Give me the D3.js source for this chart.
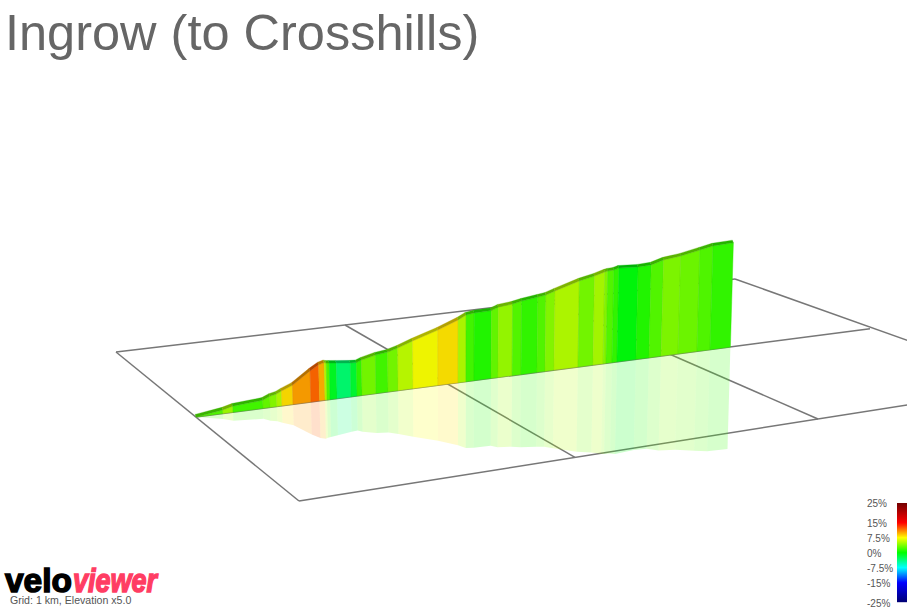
<!DOCTYPE html>
<html>
<head>
<meta charset="utf-8">
<script src="https://cdnjs.cloudflare.com/ajax/libs/d3/7.8.5/d3.min.js"></script>
<style>
html, body { margin: 0; padding: 0; background: #fff; overflow: hidden; }
svg { display: block; font-family: "Liberation Sans", Arial, sans-serif; }
</style>
</head>
<body>
<div id="wrapper"></div>
<script>
var title = 'Ingrow (to Crosshills)';
var grid_note = 'Grid: 1 km, Elevation x5.0';

// Distance along the route (km), elevation gain (m) at each point.
var distance_km = [0, 0.107, 0.147, 0.266, 0.294, 0.321, 0.341, 0.385, 0.456, 0.490, 0.512,
                   0.520, 0.532, 0.560, 0.615, 0.639, 0.659, 0.714, 0.762, 0.802, 0.861, 0.960,
                   1.045, 1.080, 1.116, 1.192, 1.223, 1.286, 1.326, 1.397, 1.433, 1.473, 1.580,
                   1.647, 1.692, 1.705, 1.732, 1.754, 1.839, 1.897, 1.951, 2.030, 2.126, 2.192, 2.295];
var elevation_m = [0, 2.8, 4.8, 6.4, 8.8, 9.9, 11.8, 15.2, 24.8, 28.8, 30,
                   29.4, 29.1, 28.4, 27, 26.7, 28.2, 30.7, 31.8, 34, 38.1, 44.2,
                   50.2, 53.3, 54.1, 54.2, 56.3, 57.3, 58.7, 60.2, 61, 63.3, 68.8,
                   71.2, 73.4, 73.8, 74, 75, 73.9, 74.2, 76.9, 78.3, 81.1, 83, 83.4];
// Gradient (%) of each stretch between two points.
var gradient_pct = [2.5, 4.7, 2, 3, 4, 5.3, 8.5, 10.3, 12, 9.8, 5.5,
                    2.5, -1, -3.3, -1.5, 1.5, 3.5, 2, 3.5, 5.6, 7.3, 8.3,
                    5.2, 2, 1, 3, 4.5, 2.5, 1.5, 2.5, 4, 5.3, 3.5,
                    5, 4, 2.5, 1.5, -0.3, 1, 2.5, 3.8, 3.3, 2.4, 1.5];

var grid_km = [0, 1, 2, 3];
var legend_ticks = [25, 15, 7.5, 0, -7.5, -15, -25];
var legend_domain = [-25, -15, -7.5, 0, 7.5, 15, 25];
var legend_colors = ['#000070', '#0000ff', '#00ffff', '#00ff00', '#ffff00', '#ff0000', '#700000'];

var width = 907;
var height = 607;

var svg = d3.select('#wrapper').append('svg')
    .attr('width', width)
    .attr('height', height);

// Ground plane: km along the route to screen x on the three long grid lines.
var back_x = d3.scaleLinear().domain(grid_km).range([116, 345, 548, 735]);
var mid_x = d3.scaleLinear().domain(grid_km).range([196, 448, 672, 870]);
var front_x = d3.scaleLinear().domain(grid_km).range([299, 575, 818, 1033]);
var back_y = d3.scaleLinear().domain([116, 735]).range([352, 279]);
var mid_y = d3.scaleLinear().domain([196, 870]).range([417, 328.7]);
var front_y = d3.scaleLinear().domain([299, 1033]).range([501, 385]);

var height_px = d3.scaleLinear().domain([0, 100]).range([0, 125]);
// Verticals tilt with the perspective.
var lean = d3.scaleLinear().domain(grid_km).range([-0.05, 0, 0.028, 0.03]);
// The mirror image also shows the road ribbon's height.
var road_lift = d3.scaleLinear().domain([0, 5]).range([0, 3]).clamp(true);
var mirror_factor = 0.95;

var color_scale = d3.scaleLinear().domain(legend_domain).range(legend_colors);

function top_point(i) {
    var x = mid_x(distance_km[i]);
    var h = height_px(elevation_m[i]);
    return [x + lean(distance_km[i]) * h, mid_y(x) - h];
}

function base_point(i) {
    var x = mid_x(distance_km[i]);
    return [x, mid_y(x)];
}

function mirror_point(i) {
    var x = mid_x(distance_km[i]);
    var h = height_px(elevation_m[i]);
    var m = h * mirror_factor + road_lift(h);
    return [x - lean(distance_km[i]) * m, mid_y(x) + m];
}

function road_point(i) {
    var p = top_point(i);
    return [p[0] - 1, p[1] - 2.6];
}

var polygon = d3.line();

// Grid
var grid = svg.append('g')
    .attr('fill', 'none')
    .attr('stroke', '#777')
    .attr('stroke-width', 1.5);

grid.selectAll('path.cross')
    .data(grid_km)
    .enter()
    .append('path')
    .attr('class', 'cross')
    .attr('d', function(d) {
        return polygon([[back_x(d), back_y(back_x(d))], [front_x(d), front_y(front_x(d))]]);
    });

grid.append('path')
    .attr('d', polygon([[back_x(0), back_y(back_x(0))], [back_x(3), back_y(back_x(3))]]));
grid.append('path')
    .attr('d', polygon([[mid_x(0), mid_y(mid_x(0))], [mid_x(3), mid_y(mid_x(3))]]));
grid.append('path')
    .attr('d', polygon([[front_x(0), front_y(front_x(0))], [front_x(3), front_y(front_x(3))]]));

// Profile: one wall piece, its mirror image and its road ribbon per stretch
var segments = svg.append('g');

var pieces = segments.selectAll('g')
    .data(gradient_pct)
    .enter()
    .append('g');

pieces.append('path')
    .attr('d', function(d, i) {
        return polygon([base_point(i), mirror_point(i), mirror_point(i + 1), base_point(i + 1)]) + 'Z';
    })
    .attr('fill', function(d) { return color_scale(d); })
    .attr('fill-opacity', 0.2);

pieces.append('path')
    .attr('d', function(d, i) {
        return polygon([base_point(i), top_point(i), top_point(i + 1), base_point(i + 1)]) + 'Z';
    })
    .attr('fill', function(d) { return d3.rgb(color_scale(d)).darker(0.12); })
    .attr('stroke', function(d) { return d3.rgb(color_scale(d)).darker(0.4); })
    .attr('stroke-width', 0.4);

pieces.append('path')
    .attr('d', function(d, i) {
        return polygon([top_point(i), road_point(i), road_point(i + 1), top_point(i + 1)]) + 'Z';
    })
    .attr('fill', function(d) { return d3.rgb(color_scale(d)).darker(1); })
    .attr('stroke', function(d) { return d3.rgb(color_scale(d)).darker(1); })
    .attr('stroke-width', 0.3);

// Title
svg.append('text')
    .attr('x', 5)
    .attr('y', 50)
    .attr('font-size', 50.5)
    .attr('fill', '#666')
    .text(title);

// Legend
var legend_y = d3.scaleLinear().domain([-25, 25]).range([603, 503]);
var legend_steps = d3.range(-24.5, 25, 0.5);

svg.append('g')
    .selectAll('rect')
    .data(legend_steps)
    .enter()
    .append('rect')
    .attr('x', 897)
    .attr('y', function(d) { return legend_y(d) - 1; })
    .attr('width', 10)
    .attr('height', 1.2)
    .attr('fill', function(d) { return color_scale(d); });

svg.append('g')
    .selectAll('text')
    .data(legend_ticks)
    .enter()
    .append('text')
    .attr('x', 867)
    .attr('y', function(d) { return legend_y(d) + 4; })
    .attr('font-size', 10)
    .attr('fill', '#555')
    .text(function(d) { return d + '%'; });

// Logo
var logo = svg.append('g')
    .attr('font-size', 34)
    .attr('font-weight', 'bold')
    .attr('stroke-width', 1.5);

logo.append('text')
    .attr('x', 5)
    .attr('y', 592)
    .attr('fill', '#000')
    .attr('stroke', '#000')
    .attr('textLength', 67)
    .attr('lengthAdjust', 'spacingAndGlyphs')
    .text('velo');

logo.append('text')
    .attr('x', 73)
    .attr('y', 592)
    .attr('font-style', 'italic')
    .attr('fill', '#ff3d63')
    .attr('stroke', '#ff3d63')
    .attr('textLength', 84)
    .attr('lengthAdjust', 'spacingAndGlyphs')
    .text('viewer');

svg.append('text')
    .attr('x', 10)
    .attr('y', 604)
    .attr('font-size', 10.6)
    .attr('fill', '#555')
    .text(grid_note);
</script>
</body>
</html>
